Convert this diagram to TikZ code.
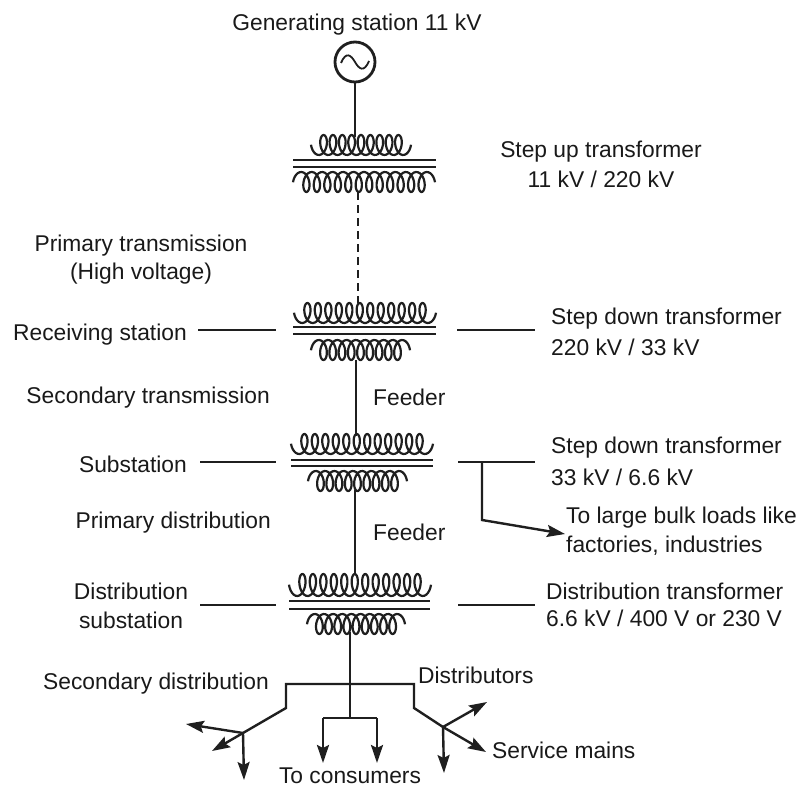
\documentclass[tikz,border=0pt]{standalone}
\usepackage{fontspec}
\setmainfont{Liberation Sans}
\usetikzlibrary{arrows.meta}
\newcommand{\xcoil}[6]{% xleft, xright, ybase(near core), height, loops, dir(+1 up,-1 down)
  \draw[coilline] plot[domain=-1.6:{2*pi*#5+1.6},samples={24*#5},smooth,variable=\t]
    ({(#1+#2)/2+((#2-#1-11)/(2*pi*#5+3.2))*(\t-pi*#5)+5.5*sin(\t r)},{#3-#6*#4*(1-cos(\t r))/2});
}
\tikzset{
  x=1pt,y=-1pt,
  wire/.style={line width=2.4pt,black!88},
  coreline/.style={line width=2.6pt,black!88},
  coilline/.style={line width=2.2pt,black!88},
  feed/.style={wire,-{Stealth[length=18pt,width=12pt,inset=3pt]}},
  lbl/.style={inner sep=0pt,font=\fontsize{22.8}{24}\selectfont,text=black!90},
  lblw/.style={lbl,anchor=west},
  lble/.style={lbl,anchor=east},
}
\begin{document}
\begin{tikzpicture}
\useasboundingbox (0,0) rectangle (798,789);
% labels
\node[lbl] (gs) at (357,25) {Generating station 11 kV};
\node[lbl] (su1) at (601,152) {Step up transformer};
\node[lbl] (su2) at (601,179) {11 kV / 220 kV};
\node[lbl] (pt1) at (141,246) {Primary transmission};
\node[lbl] (pt2) at (141,274) {(High voltage)};
\node[lble] (rs) at (187,335) {Receiving station};
\node[lblw] (sd1) at (551,319) {Step down transformer};
\node[lblw] (sd1b) at (551,347) {220 kV / 33 kV};
\node[lble] (st) at (270,398) {Secondary transmission};
\node[lblw] (f1) at (373,397) {Feeder};
\node[lble] (ss) at (187,464) {Substation};
\node[lblw] (sd2) at (551,448) {Step down transformer};
\node[lblw] (sd2b) at (551,477) {33 kV / 6.6 kV};
\node[lble] (pd) at (271,523) {Primary distribution};
\node[lblw] (f2) at (373,532) {Feeder};
\node[lblw] (bulk) at (566,518) {To large bulk loads like};
\node[lblw] (bulkb) at (566,546) {factories, industries};
\node[lbl] (ds1) at (131,591) {Distribution};
\node[lbl] (ds2) at (131,620) {substation};
\node[lblw] (dt) at (546,591) {Distribution transformer};
\node[lblw] (dtb) at (546,618) {6.6 kV / 400 V or 230 V};
\node[lble] (sdist) at (269,684) {Secondary distribution};
\node[lblw] (dist) at (418,675) {Distributors};
\node[lblw] (sm) at (492,750) {Service mains};
\node[lbl] (tc) at (350,776) {To consumers};
% generator
\node[draw,circle,line width=2.8pt,black!88,minimum size=40pt,inner sep=0pt] (gen) at (355,62) {};
\draw[line width=1.8pt,black!88] (341,63) .. controls (346,51) and (351,55) .. (355,62) .. controls (359,69) and (364,73) .. (369,61);
% transformers
\xcoil{311}{411}{155}{20}{9}{1}
\draw[coreline] (293,160) -- (436,160);
\draw[coreline] (293,167) -- (436,167);
\xcoil{293}{435}{172}{20}{12}{-1}
\xcoil{294}{436}{323}{20}{12}{1}
\draw[coreline] (293,327) -- (436,327);
\draw[coreline] (293,334) -- (436,334);
\xcoil{311}{410}{340}{20}{9}{-1}
\xcoil{291}{433}{454}{20}{12}{1}
\draw[coreline] (291,460) -- (433,460);
\draw[coreline] (291,466) -- (433,466);
\xcoil{308}{407}{471}{20}{9}{-1}
\xcoil{289}{431}{596}{22}{12}{1}
\draw[coreline] (289,601) -- (430,601);
\draw[coreline] (289,609) -- (430,609);
\xcoil{307}{405}{614}{20}{9}{-1}
% named points
\coordinate (t1top) at (355,137);
\coordinate (t1bot) at (358,192);
\coordinate (t2top) at (358,303);
\coordinate (t2bot) at (356,360);
\coordinate (t3top) at (356,436);
\coordinate (t3bot) at (355,490);
\coordinate (t4top) at (355,575);
\coordinate (t4bot) at (350,632);
\coordinate (busl) at (286,684);
\coordinate (busr) at (414,684);
\coordinate (midb) at (350,718);
% main line
\draw[wire] (gen.south) -- (t1top);
\draw[wire,dash pattern=on 8pt off 5pt] (t1bot) -- (t2top);
\draw[wire] (t2bot) -- (t3top);
\draw[wire] (t3bot) -- (t4top);
\draw[wire] (t4bot) -- (midb);
% side lines
\coordinate (a1) at (198,330); \coordinate (a2) at (276,330);
\coordinate (a3) at (457,330); \coordinate (a4) at (535,330);
\coordinate (b1) at (200,462); \coordinate (b2) at (276,462);
\coordinate (b3) at (458,462); \coordinate (b4) at (535,462);
\coordinate (c1) at (200,605); \coordinate (c2) at (276,605);
\coordinate (c3) at (458,605); \coordinate (c4) at (535,605);
\draw[wire] (a1) -- (a2) (a3) -- (a4) (b1) -- (b2) (b3) -- (b4) (c1) -- (c2) (c3) -- (c4);
% bulk branch
\coordinate (bk0) at (482,462); \coordinate (bk1) at (482,520); \coordinate (bk2) at (565,534);
\draw[feed] (bk0) -- (bk1) -- (bk2);
% distributors
\coordinate (ljoin) at (243,733);
\coordinate (rjoin) at (443,727);
\draw[wire] (ljoin) -- (286,708) -- (busl) -- (busr) -- (414,708) -- (rjoin);
\coordinate (l1) at (186,724); \coordinate (l2) at (212,751); \coordinate (l3) at (244,780);
\coordinate (r1) at (487,702); \coordinate (r2) at (486,752); \coordinate (r3) at (444,773);
\draw[feed] (ljoin) -- (l1);
\draw[feed] (ljoin) -- (l2);
\draw[feed] (ljoin) -- (l3);
\draw[feed] (rjoin) -- (r1);
\draw[feed] (rjoin) -- (r2);
\draw[feed] (rjoin) -- (r3);
\coordinate (m1) at (323,718); \coordinate (m2) at (377,718);
\coordinate (m1b) at (323,763); \coordinate (m2b) at (377,763);
\draw[wire] (m1) -- (m2);
\draw[feed] (m1) -- (m1b);
\draw[feed] (m2) -- (m2b);
\end{tikzpicture}
\end{document}
